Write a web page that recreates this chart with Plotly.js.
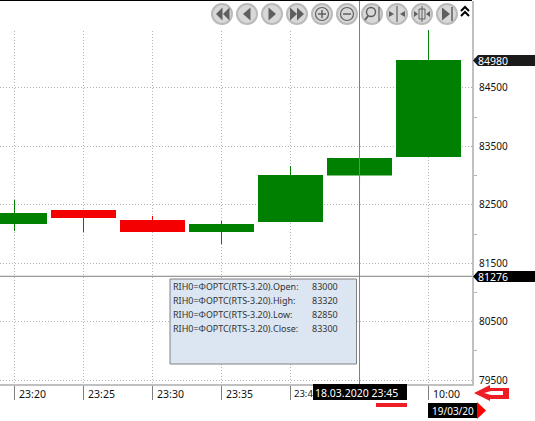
<!DOCTYPE html>
<html><head><meta charset="utf-8">
<script src="https://cdn.plot.ly/plotly-3.0.1.min.js"></script>
<style>html,body{margin:0;padding:0;background:#fff}#c{width:535px;height:421px}</style>
</head><body><div id="c"></div>
<script>
const slots = [0,1,2,3,4,5,6];
const timeLabels = ['23:20','23:25','23:30','23:35','','','10:00'];
const clippedTimeLabel = '23:4';
const opens  = [82172,82411,82240,82035,82206,83000,83319];
const highs  = [82582,82411,82308,82223,83165,83320,85493];
const lows   = [82052,82035,82035,81829,82206,82850,83319];
const closes = [82360,82274,82035,82172,83010,83300,84979];
const priceTicks = [79500,80500,81500,82500,83500,84500];
const minorPriceTicks = [80000,81000,82000,83000,84000,85000];
const cursorSlot = 5;
const cursorPrice = 81276;
const lastPrice = 84980;
const infoNames = ['Open','High','Low','Close'];
const infoValues = ['83000','83320','82850','83300'];
const instrument = 'RIH0=ФОРТС(RTS-3.20)';

const W=472,T=1,B=384;
const X=p=>p/W, Y=p=>1-(p-T)/(B-T);
const F='"Noto Sans", sans-serif';
const shapes=[],ann=[];
const P=(pts,fill,line,lw)=>{shapes.push({type:'path',xref:'paper',yref:'paper',
  path:'M'+pts.map(q=>X(q[0])+','+Y(q[1])).join('L')+(fill?'Z':''),
  fillcolor:fill||'rgba(0,0,0,0)',line:{color:line||fill,width:lw===undefined?(line?1:0):lw}});};
const R=(x0,y0,x1,y1,fill,line,lw)=>shapes.push({type:'rect',xref:'paper',yref:'paper',x0:X(x0),x1:X(x1),y0:Y(y0),y1:Y(y1),
  fillcolor:fill,line:{color:line||fill,width:line?(lw||1):0}});
const C=(cx,cy,r,fill,line,lw)=>shapes.push({type:'circle',xref:'paper',yref:'paper',x0:X(cx-r),x1:X(cx+r),y0:Y(cy-r),y1:Y(cy+r),
  fillcolor:fill,line:{color:line,width:lw||1}});
const TXT=(x,y,t,col,size)=>ann.push({xref:'paper',yref:'paper',x:X(x),y:Y(y),text:t,showarrow:false,xanchor:'left',yanchor:'middle',
  font:{family:F,size:size||10,color:col||'#111'},borderpad:0,borderwidth:0});

// toolbar strip hides the vertical grid
R(0,0,W-1,30,'#fff');
// crosshair
shapes.push({type:'line',xref:'x',yref:'paper',x0:cursorSlot,x1:cursorSlot,y0:0,y1:1.003,line:{color:'#7f7f7f',width:1}});
shapes.push({type:'line',xref:'paper',yref:'y',x0:0,x1:1,y0:cursorPrice,y1:cursorPrice,line:{color:'#7f7f7f',width:1}});
// frame
P([[0,0.5],[W,0.5]],null,'#000',1);
// info box
R(170,279,356.5,364,'#dce6f2','#808080',1);
infoNames.forEach((n,i)=>{const y=286.5+14*i;
  TXT(173,y,instrument+'.'+n+':','#333',9);
  TXT(312,y,infoValues[i],'#333',9);});
// clipped axis label
TXT(293.5,393,clippedTimeLabel,'#111',9.5);
// date tags
R(313,384,407,400,'#000');
TXT(315,392.5,'18.03.2020 23:45','#fff',10.5);
R(428,403,477,418,'#000');
P([[477,402],[486,410.5],[477,419]],'#f00');
TXT(431.5,410.5,'19/03/20','#fff',10);
// price tags
P([[473,60.5],[478,55],[535,55],[535,66],[478,66]],'#1a1a1a');
TXT(478,60.5,String(lastPrice),'#fff',10.5);
P([[473,276.5],[478,271],[535,271],[535,282],[478,282]],'#000');
TXT(478,276.5,String(cursorPrice),'#fff',10.5);
// red markers
P([[474,393],[490,385],[490,388],[509,388],[509,399],[490,399],[490,401]],'#ee1c25');
P([[484,393],[491,391],[503,391],[503,395],[491,395]],'#fff');
shapes.push({type:'line',xref:'paper',yref:'paper',x0:X(376),x1:X(407),y0:Y(405),y1:Y(405),line:{color:'#ee1c25',width:4}});

// toolbar
const dark='#5f5f5f',face='#d8d8d8';
const bx=[222,247,272,297,322,347,372,397,422,447],cy=14;
bx.forEach(x=>C(x,cy,10,face,'#bababa',2));
const tri=(x,d,w)=>P([[x,cy-6.5],[x+d*(w||6.5),cy],[x,cy+6.5]],dark);
tri(222.5,-1,6.5);tri(229.5,-1,6.5);
tri(250.5,-1,7.5);
tri(268.5,1,7.5);
tri(290,1,7);tri(297,1,7);
C(322,cy,6.5,face,dark,1.2);P([[318,cy],[326,cy]],null,dark,1.5);P([[322,cy-4],[322,cy+4]],null,dark,1.5);
C(347,cy,6.5,face,dark,1.2);P([[343,cy],[351,cy]],null,dark,1.5);
C(371,cy-2,4.5,face,dark,1.5);P([[368,cy+2],[365,cy+6]],null,dark,2);P([[379,cy-7],[379,cy+7]],null,dark,1.2);
P([[397,cy-8],[397,cy+8]],null,dark,1.2);P([[389,cy-3],[394,cy],[389,cy+3]],dark);P([[405,cy-3],[400,cy],[405,cy+3]],dark);
R(419,cy-5,425,cy+5,face,dark,1);P([[422,cy-8],[422,cy+8]],null,dark,1);P([[414,cy-3],[418,cy],[414,cy+3]],dark);P([[430,cy-3],[426,cy],[430,cy+3]],dark);
P([[442,cy-6.5],[450,cy],[442,cy+6.5]],dark);P([[452,cy-7],[452,cy+7]],null,dark,1.5);
P([[461,11],[465,7],[469,11]],null,'#000',2);P([[461,16],[465,12],[469,16]],null,'#000',2);

const colors=opens.map((o,i)=>closes[i]>=o?'#008000':'#f40000');
const wicks={type:'bar',x:slots,base:lows,y:highs.map((h,i)=>h-lows[i]),width:1/69,
  marker:{color:colors,line:{width:0}},hoverinfo:'skip',showlegend:false};
const bodies={type:'bar',x:slots,base:opens.map((o,i)=>Math.min(o,closes[i])),
  y:opens.map((o,i)=>Math.abs(closes[i]-o)),width:65/69,
  marker:{color:colors,line:{width:0}},hoverinfo:'skip',showlegend:false};

Plotly.newPlot('c',[wicks,bodies],{
  width:535,height:421,margin:{l:0,r:63,t:1,b:37},barmode:'overlay',
  paper_bgcolor:'#fff',plot_bgcolor:'#fff',showlegend:false,
  font:{family:F,size:10,color:'#111'},
  xaxis:{type:'linear',range:[-0.21,6.63],tickmode:'array',tickvals:slots,ticktext:timeLabels,
    showgrid:true,gridcolor:'#b4b4b4',griddash:'1px,2px',gridwidth:1,zeroline:false,
    showline:true,linecolor:'#c0c0c0',linewidth:2,
    ticks:'outside',ticklen:14,tickcolor:'#808080',tickwidth:1,
    ticklabelshift:18,ticklabelstandoff:-15,tickfont:{family:F,size:10.5,color:'#111'}},
  yaxis:{side:'right',range:[79432,85989],tickmode:'array',tickvals:priceTicks,tickformat:'d',
    showgrid:true,gridcolor:'#b4b4b4',griddash:'1px,2px',gridwidth:1,zeroline:false,
    showline:true,linecolor:'#c0c0c0',linewidth:2,
    minor:{tickmode:'array',tickvals:minorPriceTicks,ticks:'outside',ticklen:3,tickcolor:'#b4b4b4',tickwidth:1,showgrid:false},
    ticks:'',ticklabelstandoff:3,tickfont:{family:F,size:10,color:'#111'}},
  shapes:shapes,annotations:ann
},{staticPlot:true,displayModeBar:false});
</script></body></html>
